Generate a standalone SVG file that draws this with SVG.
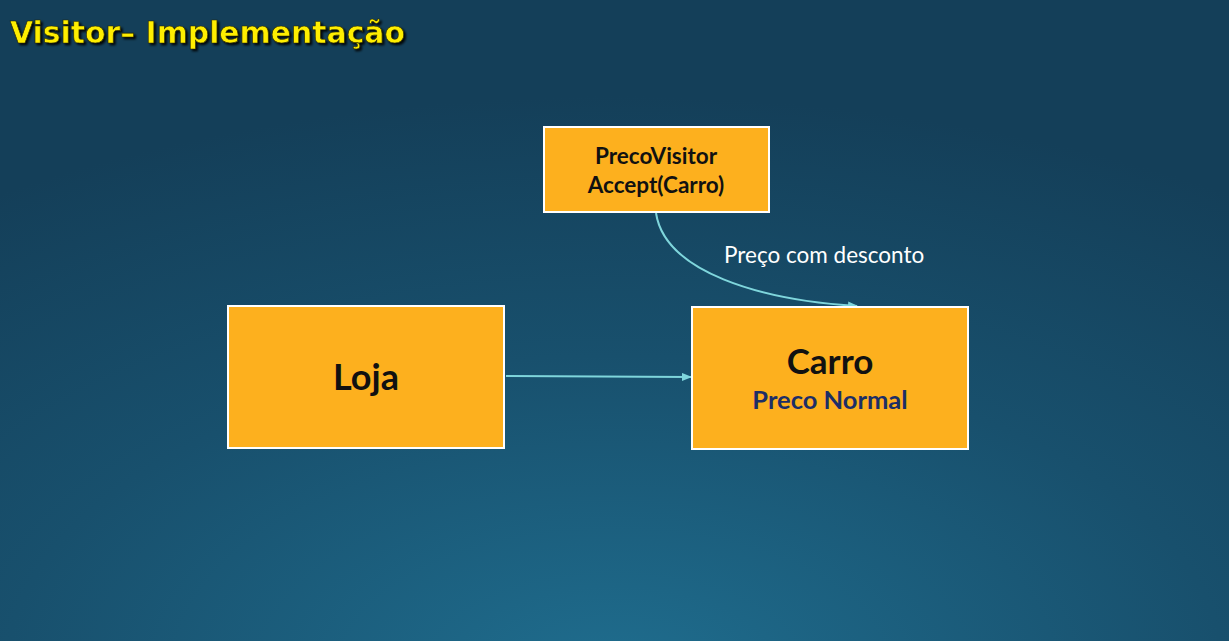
<svg xmlns="http://www.w3.org/2000/svg" width="1229" height="641" viewBox="0 0 1229 641">
<defs>
<radialGradient id="bg" cx="0.5" cy="1.05" r="0.9" fx="0.5" fy="1.05">
<stop offset="0" stop-color="#1f6d8e"/>
<stop offset="0.55" stop-color="#18506d"/>
<stop offset="1" stop-color="#143f59"/>
</radialGradient>
<marker id="arr" markerWidth="10" markerHeight="8" refX="9" refY="4" orient="auto" markerUnits="userSpaceOnUse">
<path d="M0,0 L10,4 L0,8 Z" fill="#7fd6dc"/>
</marker>
<filter id="sh" x="-5%" y="-20%" width="110%" height="140%">
<feDropShadow dx="2" dy="2" stdDeviation="0.8" flood-color="#000" flood-opacity="0.9"/>
</filter>
</defs>
<style>
.box{fill:#fdb01e;stroke:#ffffff;stroke-width:2}
.lbl{font-family:Lato,"Open Sans",sans-serif;font-weight:bold;fill:#111;text-anchor:middle}
.con{fill:none;stroke:#7fd6dc;stroke-width:2;marker-end:url(#arr)}
</style>
<rect width="1229" height="641" fill="url(#bg)"/>
<text x="10" y="43" font-family="'DejaVu Sans Condensed','DejaVu Sans',sans-serif" font-weight="bold" font-size="30" fill="#ffee00" stroke="#2a2a00" stroke-width="0.6" filter="url(#sh)" textLength="395" lengthAdjust="spacingAndGlyphs">Visitor– Implementação</text>
<g id="connectors">
<path class="con" d="M506,376 L691,377"/>
<path class="con" d="M656,213 C665,272 760,300 857,306"/>
<text x="724" y="263" font-family="Lato,'Open Sans',sans-serif" font-size="22.5" fill="#ffffff">Preço com desconto</text>
</g>
<g id="precovisitor">
<rect class="box" x="544" y="127" width="225" height="85"/>
<text class="lbl" x="656" y="164" font-size="22.5">PrecoVisitor</text>
<text class="lbl" x="656" y="193" font-size="22.5">Accept(Carro)</text>
</g>
<g id="loja">
<rect class="box" x="228" y="306" width="276" height="142"/>
<text class="lbl" x="366" y="390" font-size="36">Loja</text>
</g>
<g id="carro">
<rect class="box" x="692" y="307" width="276" height="142"/>
<text class="lbl" x="830" y="374" font-size="35">Carro</text>
<text class="lbl" x="830" y="409" font-size="25.5" style="fill:#1d2e66">Preco Normal</text>
</g>
</svg>
